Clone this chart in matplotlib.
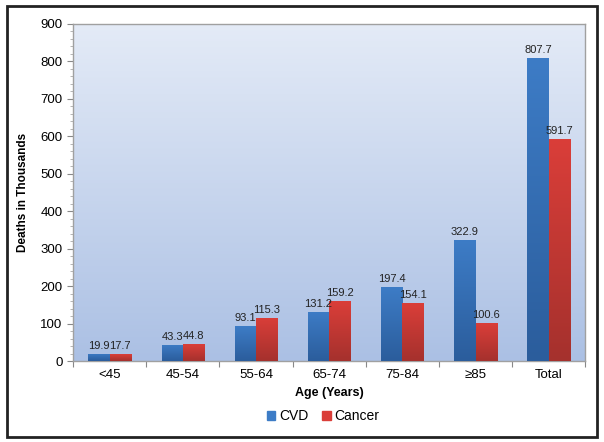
import numpy as np
import matplotlib
matplotlib.use("Agg")
import matplotlib.pyplot as plt
from matplotlib.colors import LinearSegmentedColormap
from matplotlib.patches import Patch, Rectangle

plt.rcParams['font.family'] = ['Liberation Sans', 'DejaVu Sans']

# 데이터
ages = ['<45', '45-54', '55-64', '65-74', '75-84', '\u226585', 'Total']
cvd = [19.9, 43.3, 93.1, 131.2, 197.4, 322.9, 807.7]
cancer = [17.7, 44.8, 115.3, 159.2, 154.1, 100.6, 591.7]

bar_w = 0.29
blue_top, blue_bot = '#3d7cc6', '#2b5d9c'
red_top, red_bot = '#da3e39', '#a5312d'

fig = plt.figure(figsize=(6.04, 4.42), dpi=100)
ax = fig.add_axes([0.121, 0.183, 0.848, 0.763])

# 배경 그라데이션
bg = LinearSegmentedColormap.from_list('bg', ['#abc0e4', '#e4ebf7'])
ax.imshow(np.linspace(0, 1, 256).reshape(-1, 1), cmap=bg, origin='lower',
          extent=[0, 1, 0, 1], transform=ax.transAxes, aspect='auto', zorder=0)

x = np.arange(len(ages))
b1 = ax.bar(x - bar_w / 2, cvd, bar_w, color=blue_top, zorder=2)
b2 = ax.bar(x + bar_w / 2, cancer, bar_w, color=red_top, zorder=2)

# 막대 그라데이션
def shade(bars, top, bot):
    cm = LinearSegmentedColormap.from_list('c', [bot, top])
    grad = np.linspace(0, 1, 128).reshape(-1, 1)
    for b in bars:
        x0, y0 = b.get_x(), b.get_y()
        w, h = b.get_width(), b.get_height()
        im = ax.imshow(grad, cmap=cm, origin='lower', aspect='auto',
                       extent=[x0, x0 + w, y0, y0 + h], zorder=3)
        im.set_clip_path(b)

shade(b1, blue_top, blue_bot)
shade(b2, red_top, red_bot)

for bars, vals in ((b1, cvd), (b2, cancer)):
    for b, v in zip(bars, vals):
        ax.text(b.get_x() + b.get_width() / 2, v + 8, f'{v:.1f}',
                ha='center', va='bottom', fontsize=8, color='#222222', zorder=4)

ax.set_xlim(-0.5, len(ages) - 0.5)
ax.set_ylim(0, 900)
ax.set_yticks(np.arange(0, 901, 100))
ax.set_yticks(np.arange(0, 901, 20), minor=True)
ax.set_xticks(np.arange(-0.5, len(ages), 1))
ax.set_xticklabels([])
ax.set_xticks(x, minor=True)
ax.set_xticklabels(ages, minor=True)
ax.tick_params(axis='x', which='minor', length=0, labelsize=9.5, pad=6)
ax.tick_params(axis='x', which='major', length=4, color='#888888')
ax.tick_params(axis='y', which='major', length=4, color='#888888', labelsize=9.5)
ax.tick_params(axis='y', which='minor', length=2, color='#aaaaaa')

for s in ax.spines.values():
    s.set_color('#a0a0a0')
    s.set_linewidth(1)

ax.set_xlabel('Age (Years)', fontsize=9, fontweight='bold', labelpad=4)
ax.set_ylabel('Deaths in Thousands', fontsize=8.5, fontweight='bold', labelpad=8)

handles = [Patch(color=blue_top, label='CVD'), Patch(color=red_top, label='Cancer')]
fig.legend(handles=handles, loc='center', bbox_to_anchor=(0.535, 0.058), ncol=2,
           frameon=False, fontsize=10, handlelength=0.6, handleheight=0.6,
           handletextpad=0.3, columnspacing=1.0)

# 바깥 테두리
fig.patches.append(Rectangle((0.011, 0.012), 0.978, 0.975, transform=fig.transFigure,
                             fill=False, edgecolor='#222222', linewidth=2))

fig.savefig('out.png', dpi=100)
